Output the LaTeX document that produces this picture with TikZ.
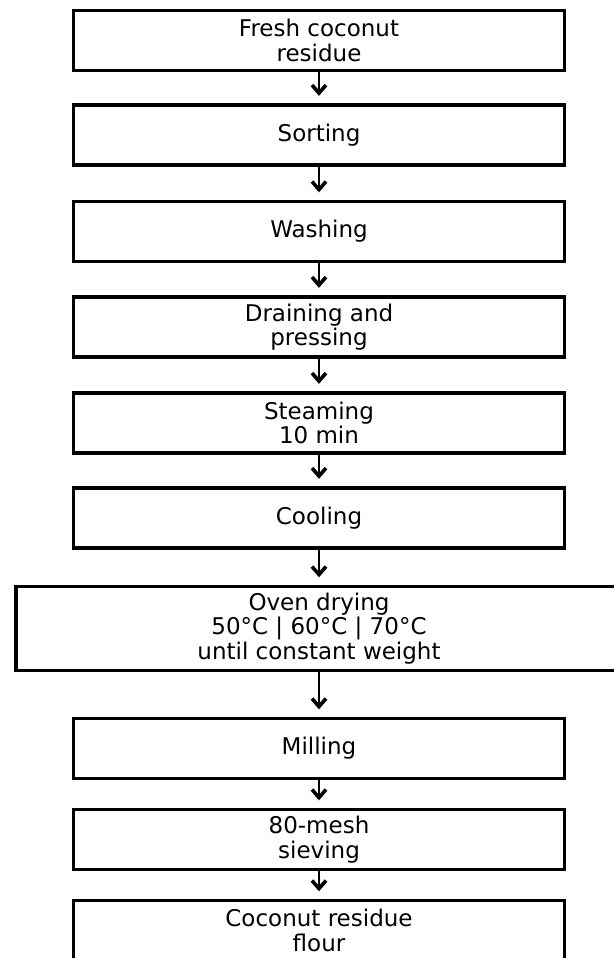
\documentclass[tikz,border=0pt]{standalone}
\usepackage{fontspec}
\setmainfont{DejaVu Sans}
\usetikzlibrary{arrows.meta}
\tikzset{
  stepbox/.style={draw=black, line width=3.4pt, fill=white, align=center,
    minimum width=491pt, minimum height=60pt, inner sep=0pt,
    font=\fontsize{23}{24.6}\selectfont},
  widebox/.style={stepbox, minimum width=606pt, minimum height=84pt},
  flowarrow/.style={line width=2.8pt, line cap=butt,
    -{Straight Barb[length=8pt,width=14pt,line width=3.6pt]}, shorten >=7.5pt}
}
\begin{document}
\begin{tikzpicture}[x=1pt,y=-1pt]
\useasboundingbox (0,0) rectangle (613,958);
\node[stepbox] (b1) at (319,40.5) {Fresh coconut\\residue};
\node[stepbox] (b2) at (319,135) {Sorting};
\node[stepbox] (b3) at (319,231.5) {Washing};
\node[stepbox] (b4) at (319,327) {Draining and\\pressing};
\node[stepbox] (b5) at (319,423) {Steaming\\10 min};
\node[stepbox] (b6) at (319,518) {Cooling};
\node[widebox] (b7) at (319,628.5) {Oven drying\\50°C | 60°C | 70°C\\until constant weight};
\node[stepbox] (b8) at (319,748.5) {Milling};
\node[stepbox] (b9) at (319,839.5) {80-mesh\\sieving};
\node[stepbox] (b10) at (319,930.5) {Coconut residue\\flour};
\draw[flowarrow] (b1.south) -- (b2.north);
\draw[flowarrow] (b2.south) -- (b3.north);
\draw[flowarrow] (b3.south) -- (b4.north);
\draw[flowarrow] (b4.south) -- (b5.north);
\draw[flowarrow] (b5.south) -- (b6.north);
\draw[flowarrow] (b6.south) -- (b7.north);
\draw[flowarrow] (b7.south) -- (b8.north);
\draw[flowarrow] (b8.south) -- (b9.north);
\draw[flowarrow] (b9.south) -- (b10.north);
\end{tikzpicture}
\end{document}
